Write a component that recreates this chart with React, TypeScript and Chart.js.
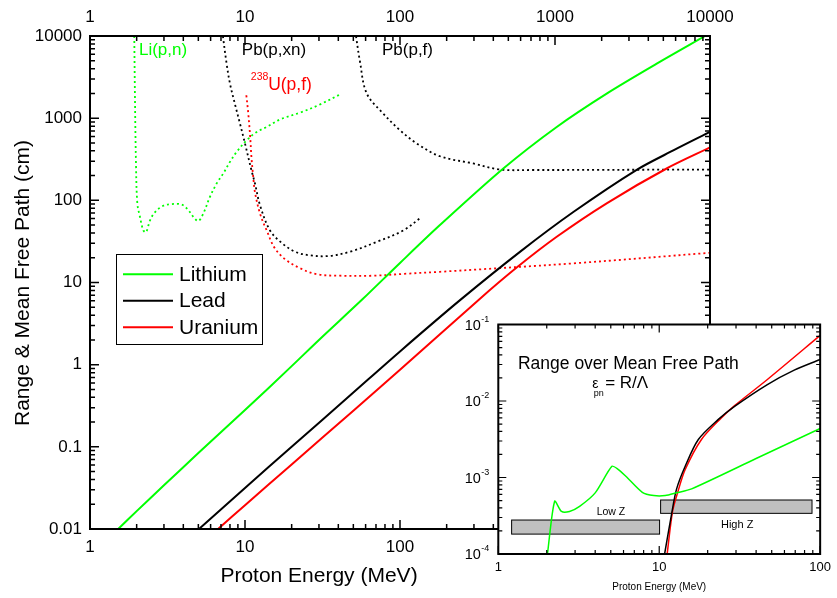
import React, { useEffect, useRef } from 'react';
import { Chart, registerables } from 'chart.js';
Chart.register(...registerables);

const FONT = '"Liberation Sans", Arial, Helvetica, sans-serif';
const GREEN = '#00ff00';
const BLACK = '#000000';
const RED = '#ff0000';

// ---- Main chart axes ----
const energyTicks = [1, 10, 100, 1000, 10000];
const lengthTicks = [0.01, 0.1, 1, 10, 100, 1000, 10000];

// ---- Ranges (solid lines), cm ----
const lithiumRangeE = [1.52, 2, 3, 5, 10, 20, 30, 57, 100, 181, 464, 1026, 2155, 4530, 9300];
const lithiumRange = [0.01, 0.0165, 0.034, 0.084, 0.28, 0.96, 2.0, 6.2, 17.3, 50, 244, 782, 1990, 4600, 10000];

const leadRangeE = [5.05, 10, 20, 50, 100, 244, 594, 1313, 3365, 5800, 10000];
const leadRange = [0.01, 0.0316, 0.1, 0.458, 1.45, 6.1, 23.6, 72, 235, 405, 680];

const uraniumRangeE = [6.7, 10, 20, 50, 100, 320, 566, 1026, 2155, 5250, 10000];
const uraniumRange = [0.01, 0.0195, 0.061, 0.275, 0.865, 6.1, 15.2, 36, 92, 244, 440];

// ---- Mean free paths (dotted lines), cm ----
const liPnE = [1.93, 1.95, 1.98, 2.02, 2.1, 2.21, 2.3, 2.44, 2.63, 2.97, 3.36, 3.9, 4.31, 4.64, 5.0, 5.38, 5.94, 6.56, 7.24, 8.0, 8.84, 10.25, 11.9, 13.8, 16.8, 23, 30, 42];
const liPnMfp = [10000, 1810, 281, 92, 63, 43, 41, 57, 72, 86, 90, 89, 76, 63, 56, 69, 110, 160, 212, 294, 389, 538, 680, 781, 962, 1180, 1450, 1990];

const pbPxnE = [7.2, 7.61, 8.0, 8.6, 9.28, 10, 11.0, 11.6, 12.5, 14.5, 17.2, 21, 26.3, 34.6, 47.6, 71, 105, 137];
const pbPxnMfp = [10000, 4600, 2630, 1500, 860, 491, 233, 160, 87, 43, 30.5, 23.7, 21.4, 21, 23.7, 31.3, 43, 62];

const pbPfE = [52, 55, 61, 78, 100, 128, 181, 297, 444, 730, 1950, 10000];
const pbPfMfp = [10000, 5060, 2000, 1137, 713, 493, 344, 281, 237, 234, 235, 237];

const uPfE = [10.2, 10.5, 10.8, 11.0, 11.3, 11.6, 12.5, 13.8, 15.6, 18.4, 22.7, 29, 41, 67, 110, 181, 1313, 10000];
const uPfMfp = [1900, 1140, 591, 338, 193, 125, 69, 43, 26, 18.8, 14.9, 12.6, 12.1, 12.1, 12.8, 13.5, 17.1, 23];

// ---- Inset: range over mean free path ----
const insetEnergyTicks = [1, 10, 100];
const insetRatioTicks = [1e-4, 1e-3, 1e-2, 1e-1];

const liRatioE = [2.02, 2.24, 2.47, 2.77, 3.2, 4.0, 5.08, 5.5, 6.2, 7.85, 9.25, 10.9, 12.8, 15.9, 40, 100];
const liRatio = [1e-4, 4.9e-4, 3.6e-4, 3.6e-4, 4.2e-4, 6.3e-4, 1.4e-3, 1.3e-3, 1.04e-3, 6.4e-4, 5.8e-4, 5.8e-4, 6.3e-4, 7.1e-4, 1.77e-3, 4.37e-3];

const pbRatioE = [10.8, 11.97, 12.8, 14.5, 17.5, 23.2, 29.4, 47, 69, 100];
const pbRatio = [1e-4, 3.46e-4, 7e-4, 1.4e-3, 3.14e-3, 5.7e-3, 8.5e-3, 1.64e-2, 2.53e-2, 3.49e-2];

const uRatioE = [11.2, 12.1, 13.0, 14.5, 18.3, 24.3, 29.4, 47, 100];
const uRatio = [1e-4, 3.6e-4, 6.3e-4, 1.27e-3, 3.14e-3, 6.0e-3, 8.7e-3, 1.91e-2, 7.2e-2];

// Grey bands [E from, E to, ratio low, ratio high]
const lowZBand = [1.21, 10.05, 1.82e-4, 2.78e-4];
const highZBand = [10.2, 89, 3.4e-4, 5.08e-4];

const pts = (xs: number[], ys: number[]) => xs.map((x, i) => ({ x, y: ys[i] }));

function fmtNum(v: number): string {
  const l = Math.round(Math.log10(v));
  if (l >= 0) return String(Math.round(v));
  return '0.' + '0'.repeat(-l - 1) + '1';
}

function decadeTicks(min: number, max: number) {
  const out: { v: number; major: boolean }[] = [];
  const k0 = Math.floor(Math.log10(min) + 1e-9);
  const k1 = Math.ceil(Math.log10(max) - 1e-9);
  for (let k = k0; k <= k1; k++) {
    for (let d = 1; d <= 9; d++) {
      const v = d * Math.pow(10, k);
      if (v >= min * 0.9999 && v <= max * 1.0001) out.push({ v, major: d === 1 });
    }
  }
  return out;
}

function drawFrame(chart: any, major: number, minor: number, frameW: number, tickW: number) {
  const { ctx, chartArea: a } = chart;
  const xs = chart.scales.x;
  const ys = chart.scales.y;
  ctx.save();
  ctx.strokeStyle = '#000';
  ctx.lineWidth = tickW;
  ctx.beginPath();
  for (const t of decadeTicks(xs.min, xs.max)) {
    const px = xs.getPixelForValue(t.v);
    const len = t.major ? major : minor;
    ctx.moveTo(px, a.bottom);
    ctx.lineTo(px, a.bottom - len);
    ctx.moveTo(px, a.top);
    ctx.lineTo(px, a.top + len);
  }
  for (const t of decadeTicks(ys.min, ys.max)) {
    const py = ys.getPixelForValue(t.v);
    const len = t.major ? major : minor;
    ctx.moveTo(a.left, py);
    ctx.lineTo(a.left + len, py);
    ctx.moveTo(a.right, py);
    ctx.lineTo(a.right - len, py);
  }
  ctx.stroke();
  ctx.lineWidth = frameW;
  ctx.strokeRect(a.left, a.top, a.right - a.left, a.bottom - a.top);
  ctx.restore();
}

const mainDecor = {
  id: 'mainDecor',
  afterDraw(chart: any) {
    const { ctx } = chart;
    const xs = chart.scales.x;
    const ys = chart.scales.y;
    drawFrame(chart, 9, 5, 2, 1.5);

    ctx.save();
    ctx.textBaseline = 'middle';
    ctx.textAlign = 'left';
    const label = (text: string, e: number, v: number, size: number, color: string) => {
      ctx.font = `${size}px ${FONT}`;
      ctx.fillStyle = color;
      ctx.fillText(text, xs.getPixelForValue(e), ys.getPixelForValue(v));
    };
    label('Li(p,n)', 2.07, 6680, 17, GREEN);
    label('Pb(p,xn)', 9.54, 6680, 17, BLACK);
    label('Pb(p,f)', 76.5, 6680, 17, BLACK);
    label('238', 10.9, 3140, 10.5, RED);
    label('U(p,f)', 14.1, 2510, 17.5, RED);

    // axis titles
    ctx.fillStyle = '#000';
    ctx.font = `21px ${FONT}`;
    ctx.textAlign = 'center';
    ctx.fillText('Proton Energy (MeV)', 319, 576);
    ctx.save();
    ctx.translate(23, 283);
    ctx.rotate(-Math.PI / 2);
    ctx.fillText('Range & Mean Free Path (cm)', 0, 0);
    ctx.restore();

    // legend
    const bx = 116, by = 254, bw = 146, bh = 90;
    ctx.fillStyle = '#fff';
    ctx.fillRect(bx, by, bw, bh);
    ctx.strokeStyle = '#000';
    ctx.lineWidth = 1;
    ctx.strokeRect(bx + 0.5, by + 0.5, bw, bh);
    const rows = [274.3, 300.7, 327.3];
    ctx.font = `21px ${FONT}`;
    ctx.textAlign = 'left';
    for (let i = 0; i < 3; i++) {
      const ds = chart.data.datasets[i];
      ctx.strokeStyle = ds.borderColor;
      ctx.lineWidth = 2;
      ctx.beginPath();
      ctx.moveTo(123, rows[i]);
      ctx.lineTo(173, rows[i]);
      ctx.stroke();
      ctx.fillStyle = '#000';
      ctx.fillText(ds.label, 179, rows[i] + 1);
    }
    ctx.restore();
  },
};

const insetDecor = {
  id: 'insetDecor',
  beforeDraw(chart: any) {
    const { ctx, chartArea: a } = chart;
    ctx.save();
    ctx.fillStyle = '#fff';
    ctx.fillRect(a.left, a.top, a.right - a.left, a.bottom - a.top);
    ctx.restore();
  },
  beforeDatasetsDraw(chart: any) {
    const { ctx } = chart;
    const xs = chart.scales.x;
    const ys = chart.scales.y;
    ctx.save();
    for (const b of [lowZBand, highZBand]) {
      const x0 = xs.getPixelForValue(b[0]);
      const x1 = xs.getPixelForValue(b[1]);
      const y0 = ys.getPixelForValue(b[3]);
      const y1 = ys.getPixelForValue(b[2]);
      ctx.fillStyle = '#c0c0c0';
      ctx.fillRect(x0, y0, x1 - x0, y1 - y0);
      ctx.strokeStyle = '#000';
      ctx.lineWidth = 1;
      ctx.strokeRect(x0, y0, x1 - x0, y1 - y0);
    }
    ctx.restore();
  },
  afterDraw(chart: any) {
    const { ctx, chartArea: a } = chart;
    const xs = chart.scales.x;
    const ys = chart.scales.y;
    drawFrame(chart, 8, 4, 2, 1.2);
    ctx.save();
    ctx.fillStyle = '#000';
    // y tick labels 10^n
    for (const v of insetRatioTicks) {
      const py = ys.getPixelForValue(v);
      const exp = String(Math.round(Math.log10(v)));
      ctx.textBaseline = 'middle';
      ctx.textAlign = 'right';
      ctx.font = `9px ${FONT}`;
      const supW = ctx.measureText(exp).width;
      ctx.fillText(exp, a.left - 9, py - 5);
      ctx.font = `14.5px ${FONT}`;
      ctx.fillText('10', a.left - 9 - supW - 0.5, py + 1);
    }
    // texts
    ctx.textAlign = 'center';
    ctx.textBaseline = 'middle';
    ctx.font = `17.5px ${FONT}`;
    ctx.fillText('Range over Mean Free Path', xs.getPixelForValue(6.43), ys.getPixelForValue(3.05e-2));
    const ex = xs.getPixelForValue(3.83);
    const ey = ys.getPixelForValue(1.72e-2);
    ctx.textAlign = 'left';
    ctx.font = `14px ${FONT}`;
    ctx.fillText('ε', ex, ey + 1);
    ctx.font = `9px ${FONT}`;
    ctx.fillText('pn', ex + 1.5, ey + 11);
    ctx.font = `17px ${FONT}`;
    ctx.fillText('= R/Λ', ex + 13, ey);
    ctx.textAlign = 'center';
    ctx.font = `10.5px ${FONT}`;
    ctx.fillText('Low Z', xs.getPixelForValue(5.01), ys.getPixelForValue(3.54e-4));
    ctx.font = `11px ${FONT}`;
    ctx.fillText('High Z', xs.getPixelForValue(30.5), ys.getPixelForValue(2.39e-4));
    ctx.restore();
  },
};

function solid(label: string, data: any[], color: string, width = 2, tension = 0.3) {
  return {
    label,
    data,
    borderColor: color,
    backgroundColor: color,
    borderWidth: width,
    pointRadius: 0,
    fill: false,
    tension,
    xAxisID: 'x',
    yAxisID: 'y',
  };
}
function dotted(label: string, data: any[], color: string) {
  return { ...solid(label, data, color, 1.8, 0.35), borderDash: [2, 3] };
}

const hiddenGrid = { display: false, drawTicks: false };

export default function App() {
  const mainRef = useRef<HTMLCanvasElement>(null);
  const insetRef = useRef<HTMLCanvasElement>(null);

  useEffect(() => {
    document.body.style.margin = '0';
    Chart.defaults.font.family = FONT;
    Chart.defaults.color = '#000';

    const tickFont = { family: FONT, size: 17 };
    const main = new Chart(mainRef.current as HTMLCanvasElement, {
      type: 'line',
      data: {
        datasets: [
          solid('Lithium', pts(lithiumRangeE, lithiumRange), GREEN),
          solid('Lead', pts(leadRangeE, leadRange), BLACK),
          solid('Uranium', pts(uraniumRangeE, uraniumRange), RED),
          dotted('Li(p,n)', pts(liPnE, liPnMfp), GREEN),
          dotted('Pb(p,xn)', pts(pbPxnE, pbPxnMfp), BLACK),
          dotted('Pb(p,f)', pts(pbPfE, pbPfMfp), BLACK),
          dotted('238U(p,f)', pts(uPfE, uPfMfp), RED),
        ] as any,
      },
      options: {
        animation: false,
        responsive: false,
        devicePixelRatio: 1,
        layout: { padding: { left: 0, right: 127, top: 0, bottom: 0 } },
        plugins: { legend: { display: false }, tooltip: { enabled: false } },
        scales: {
          x: {
            type: 'logarithmic',
            position: 'bottom',
            min: 1,
            max: 10000,
            grid: hiddenGrid,
            border: { display: false },
            ticks: { font: tickFont, color: '#000', padding: 8, autoSkip: false, maxRotation: 0, callback: (v: any) => fmtNum(Number(v)) },
            afterBuildTicks: (s: any) => { s.ticks = energyTicks.map((value) => ({ value })); },
            afterFit: (s: any) => { s.height = 69; },
          },
          x2: {
            type: 'logarithmic',
            position: 'top',
            min: 1,
            max: 10000,
            grid: hiddenGrid,
            border: { display: false },
            ticks: { font: tickFont, color: '#000', padding: 8, autoSkip: false, maxRotation: 0, callback: (v: any) => fmtNum(Number(v)) },
            afterBuildTicks: (s: any) => { s.ticks = energyTicks.map((value) => ({ value })); },
            afterFit: (s: any) => { s.height = 36; },
          },
          y: {
            type: 'logarithmic',
            position: 'left',
            min: 0.01,
            max: 10000,
            grid: hiddenGrid,
            border: { display: false },
            ticks: { font: tickFont, color: '#000', padding: 8, autoSkip: false, callback: (v: any) => fmtNum(Number(v)) },
            afterBuildTicks: (s: any) => { s.ticks = lengthTicks.map((value) => ({ value })); },
            afterFit: (s: any) => { s.width = 90; },
          },
        } as any,
      },
      plugins: [mainDecor],
    });

    const inset = new Chart(insetRef.current as HTMLCanvasElement, {
      type: 'line',
      data: {
        datasets: [
          solid('Lithium', pts(liRatioE, liRatio), GREEN, 1.5, 0.25),
          solid('Lead', pts(pbRatioE, pbRatio), BLACK, 1.5, 0.3),
          solid('Uranium', pts(uRatioE, uRatio), RED, 1.5, 0.3),
        ] as any,
      },
      options: {
        animation: false,
        responsive: false,
        devicePixelRatio: 1,
        layout: { padding: { left: 0, right: 14, top: 24.5, bottom: 0 } },
        plugins: { legend: { display: false }, tooltip: { enabled: false } },
        scales: {
          x: {
            type: 'logarithmic',
            position: 'bottom',
            min: 1,
            max: 100,
            grid: hiddenGrid,
            border: { display: false },
            ticks: { font: { family: FONT, size: 13 }, color: '#000', padding: 6, autoSkip: false, maxRotation: 0, callback: (v: any) => fmtNum(Number(v)) },
            afterBuildTicks: (s: any) => { s.ticks = insetEnergyTicks.map((value) => ({ value })); },
            title: { display: true, text: 'Proton Energy (MeV)', color: '#000', font: { family: FONT, size: 10 }, padding: { top: 0, bottom: 5 } },
            afterFit: (s: any) => { s.height = 44; },
          },
          y: {
            type: 'logarithmic',
            position: 'left',
            min: 1e-4,
            max: 1e-1,
            grid: hiddenGrid,
            border: { display: false },
            ticks: { display: false },
            afterBuildTicks: (s: any) => { s.ticks = insetRatioTicks.map((value) => ({ value })); },
            afterFit: (s: any) => { s.width = 58.3; },
          },
        } as any,
      },
      plugins: [insetDecor],
    });

    return () => {
      main.destroy();
      inset.destroy();
    };
  }, []);

  return (
    <div style={{ position: 'relative', width: 837, height: 598, background: '#fff' }}>
      <canvas ref={mainRef} width={837} height={598} style={{ position: 'absolute', left: 0, top: 0, width: 837, height: 598 }} />
      <canvas ref={insetRef} width={397} height={298} style={{ position: 'absolute', left: 440, top: 300, width: 397, height: 298 }} />
    </div>
  );
}
